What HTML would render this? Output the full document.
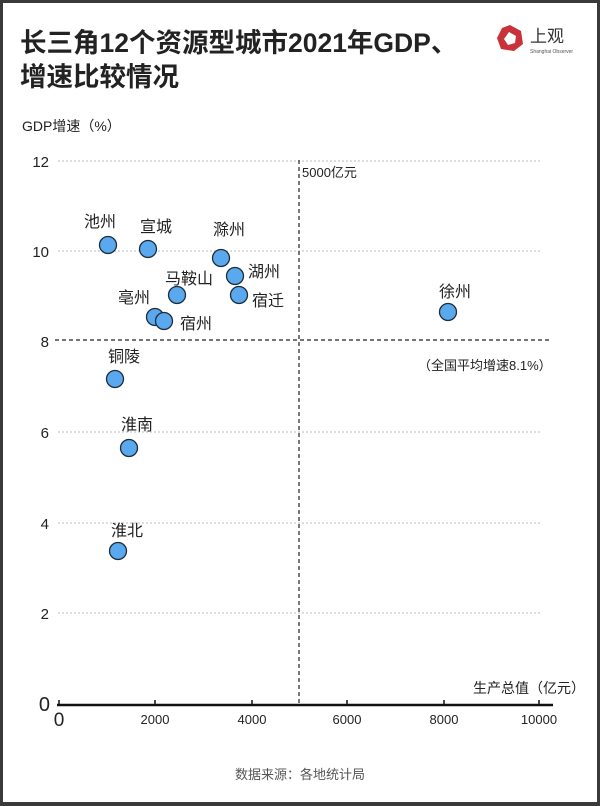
<!DOCTYPE html>
<html><head><meta charset="utf-8"><style>
html,body{margin:0;padding:0;background:#fff}
svg{display:block}
text{font-family:"Liberation Sans","Noto Sans CJK SC",sans-serif}
</style></head><body>
<svg width="600" height="806" viewBox="0 0 600 806" xmlns="http://www.w3.org/2000/svg">
<rect x="0" y="0" width="600" height="806" fill="#3a3a3a"/>
<rect x="3" y="3" width="594" height="799" fill="#fff"/>
<text x="20" y="52" font-size="26.5" font-weight="bold" fill="#222">长三角12个资源型城市2021年GDP、</text>
<text x="20" y="86" font-size="26.5" font-weight="bold" fill="#222">增速比较情况</text>
<g transform="translate(510,38)">
<polygon points="0,-13 11,-7 13,6 4,13 -9,11 -13,0 -8,-10" fill="#c8323a"/>
<polygon points="-1,-6 6,-2 5,5 -2,7 -6,1" fill="#fff"/>
</g>
<text x="530" y="42" font-size="17" fill="#333">上观</text>
<text x="530" y="53" font-size="5" fill="#555">Shanghai Observer</text>
<text x="22" y="131" font-size="14" fill="#222">GDP增速（%）</text>
<g stroke="#bbb" stroke-width="1" stroke-dasharray="2,2">
<line x1="58" y1="161" x2="540" y2="161"/>
<line x1="58" y1="251" x2="540" y2="251"/>
<line x1="58" y1="432" x2="540" y2="432"/>
<line x1="58" y1="523" x2="540" y2="523"/>
<line x1="58" y1="613" x2="540" y2="613"/>
</g>
<g font-size="15" fill="#222" text-anchor="end">
<text x="49" y="167">12</text>
<text x="49" y="257">10</text>
<text x="49" y="347">8</text>
<text x="49" y="438">6</text>
<text x="49" y="529">4</text>
<text x="49" y="619">2</text>
<text x="50" y="711" font-size="20">0</text>
</g>
<line x1="55" y1="340" x2="552" y2="340" stroke="#222" stroke-width="1.2" stroke-dasharray="4,3"/>
<line x1="299" y1="160" x2="299" y2="705" stroke="#222" stroke-width="1.2" stroke-dasharray="4,3"/>
<text x="302" y="177" font-size="13" fill="#222">5000亿元</text>
<text x="418" y="370" font-size="13" fill="#222">（全国平均增速8.1%）</text>
<line x1="57" y1="705" x2="553" y2="705" stroke="#111" stroke-width="2.5"/>
<g stroke="#111" stroke-width="1.5">
<line x1="59" y1="700" x2="59" y2="705"/><line x1="155" y1="700" x2="155" y2="705"/>
<line x1="252" y1="700" x2="252" y2="705"/><line x1="347" y1="700" x2="347" y2="705"/>
<line x1="444" y1="700" x2="444" y2="705"/><line x1="539" y1="700" x2="539" y2="705"/>
</g>
<g font-size="13" fill="#222" text-anchor="middle">
<text x="59" y="726" font-size="19">0</text>
<text x="155" y="724">2000</text><text x="252" y="724">4000</text>
<text x="347" y="724">6000</text><text x="444" y="724">8000</text>
<text x="539" y="724">10000</text>
</g>
<text x="585" y="693" font-size="14" fill="#222" text-anchor="end">生产总值（亿元）</text>
<g fill="#5aa8ee" stroke="#1f2d3a" stroke-width="1.3">
<circle cx="108" cy="245" r="8.5"/><circle cx="148" cy="249" r="8.5"/>
<circle cx="221" cy="258" r="8.5"/><circle cx="235" cy="276" r="8.5"/>
<circle cx="177" cy="295" r="8.5"/><circle cx="239" cy="295" r="8.5"/>
<circle cx="155" cy="317" r="8.5"/><circle cx="164" cy="321" r="8.5"/>
<circle cx="448" cy="312" r="8.5"/><circle cx="115" cy="379" r="8.5"/>
<circle cx="129" cy="448" r="8.5"/><circle cx="118" cy="551" r="8.5"/>
</g>
<g font-size="16" fill="#222" text-anchor="middle">
<text x="100" y="227">池州</text><text x="156" y="232">宣城</text>
<text x="229" y="235">滁州</text><text x="189" y="284">马鞍山</text>
<text x="264" y="277">湖州</text><text x="268" y="306">宿迁</text>
<text x="134" y="303">亳州</text><text x="196" y="329">宿州</text>
<text x="455" y="297">徐州</text><text x="124" y="362">铜陵</text>
<text x="137" y="430">淮南</text><text x="127" y="536">淮北</text>
</g>
<text x="300" y="779" font-size="13" fill="#555" text-anchor="middle">数据来源：各地统计局</text>
</svg>
</body></html>
